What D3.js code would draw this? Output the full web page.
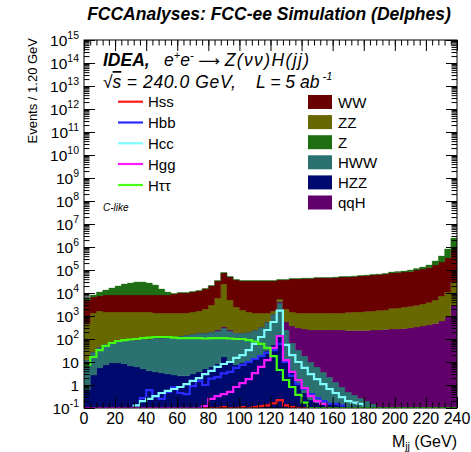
<!DOCTYPE html>
<html><head><meta charset="utf-8">
<script src="https://cdn.jsdelivr.net/npm/d3@7"></script>
<style>
body{margin:0;background:#fff}
svg{display:block}
text{font-family:"Liberation Sans",Arial,Helvetica,sans-serif;fill:#000}
</style>
</head><body>
<svg id="c" width="471" height="452"></svg>
<script>
// ---- data: bin centers (GeV), 4 GeV wide bins ----
const binCenters = [2,6,10,14,18,22,26,30,34,38,42,46,50,54,58,62,66,70,74,78,82,86,90,94,98,102,106,110,114,118,122,126,130,134,138,142,146,150,154,158,162,166,170,174,178,182,186,190,194,198,202,206,210,214,218,222,226,230,234,238];
const binWidth = 4;

// stacked backgrounds (events / bin)
const HZZ = [0.6,2.7,5.5,7.4,9.1,9.1,8.2,6.7,6.1,5.0,4.1,3.7,3.3,3.0,2.7,2.5,2.5,3.0,3.7,5.0,6.1,8.2,16.5,10,7.4,9.1,11,15,20,30,55,150,12,3.7,1.2,0.45,0.22,0.17,0.15,0.15,0.14,0.13,0.12,0.12,0.11,0.11,0.1,0,0,0,0,0,0,0,0,0,0,0,0,0];
const HWW = [11.6,24.5,39,53,65,73,82,84,84,95,96,106,107,119,119,133,147,162,178,177,195,215,285,213,175,173,190,231,312,518,1165,3500,234,63,32,17.8,9.8,5.9,3.5,2.1,1.2,0.69,0.38,0.25,0.16,0.09,0.05,0.05,0,0,0,0,0,0,0,0,0,0,0,0];
const qqH = [0.2,0.2,0.2,0.2,0.2,0.2,0.2,0.2,0.2,0.2,0.2,0.2,0.2,0.2,0.2,0.2,0.2,0.2,0.2,0.2,2,23,31,23,3,1,1,1,1,2,5,500,302,300,268,254,236,240,242,244,245,245,233,233,234,234,246,246,259,272,272,286,301,332,367,406,472,606,905,3010];
const ZZ = [484,1320,1600,1430,1420,1410,1400,1400,1400,1390,1390,1240,1240,1230,1230,1215,1200,1325,1470,1840,2810,5810,24300,4710,2280,1640,1290,1100,1020,800,430,1330,1470,1120,1050,1080,1100,1100,1100,1100,1100,1100,1190,1260,1260,1340,1400,1480,1560,1850,1960,2170,2290,2530,2960,3450,4490,6800,10100,27100];
const WW = [4460,5350,5760,6700,6700,6700,6700,6700,6700,6700,6700,6840,6840,6840,7700,8650,8650,9510,10550,12900,17200,27100,49500,44600,34200,31400,31700,31800,31800,31800,31500,31200,34700,39100,39250,41350,41350,43550,43550,43550,45850,48250,48200,50700,53300,56100,59000,62000,65200,72000,75600,79400,83400,97100,106700,124100,160000,215600,322000,711000];
const Zbkg = [1100,1490,3590,5310,8310,12000,16400,19000,21900,21900,19000,14100,6710,2810,450,500,500,600,600,800,1000,1700,3700,2600,1900,1700,1700,1700,1700,1700,1700,1900,1900,2100,2100,2200,2200,2300,2300,2300,2400,2600,2600,2600,2900,2900,3100,3300,4000,7800,8200,8600,14000,16000,25000,37000,81000,183000,485000,1720000];

// signal lines (events / bin)
const Hss = [0,0,0,0,0,0,0,0,0,0,0,0,0,0,0,0,0,0,0,0,0.1,0.1,0.11,0.1,0.1,0.11,0.1,0.11,0.12,0.13,0.16,0.22,0.13,0.11,0.1,0,0,0,0,0,0,0,0,0,0,0,0,0,0,0,0,0,0,0,0,0,0,0,0,0];
const Hbb = [0,0,0,0,0,0,0,0,0.13,0.27,0.6,0.33,0.25,0.5,0.8,0.45,0.4,0.9,1.5,1.0,1.9,2.2,3.2,3.7,5.5,7.4,10,13.5,18,25,33,61,10,2.5,1.1,0.67,0.4,0.27,0.2,0.15,0.15,0.13,0,0,0,0,0,0,0,0,0,0,0,0,0,0,0,0,0,0];
const Hcc = [0,0,0,0,0,0,0,0.1,0.13,0.2,0.25,0.33,0.45,0.55,0.67,0.82,1.1,1.5,2.0,3.0,4.1,6.1,8.2,10,15,20,33,61,122,246,548,1700,55,20,10,5.5,3.0,1.8,1.1,0.67,0.45,0.3,0.2,0.17,0.15,0,0,0,0,0,0,0,0,0,0,0,0,0,0,0];
const Hgg = [0,0,0,0,0,0,0,0,0,0,0,0,0,0,0,0,0,0,0,0.12,0.25,0.33,0.4,0.5,0.82,1.2,1.8,3.3,6.1,12,41,135,12,3.7,1.65,0.74,0.33,0.2,0.15,0,0,0,0,0,0,0,0,0,0,0,0,0,0,0,0,0,0,0,0,0];
const Htautau = [7.4,16.5,33,50,67,82,90,95,100,110,115,122,122,122,115,110,110,110,110,105,110,110,110,105,100,100,90,78,61,41,18,4.5,1.65,0.82,0.37,0.17,0,0,0,0,0,0,0,0,0,0,0,0,0,0,0,0,0,0,0,0,0,0,0,0];

// axis ticks
const xTickValues = [0,20,40,60,80,100,120,140,160,180,200,220,240];
const yExponents = [-1,0,1,2,3,4,5,6,7,8,9,10,11,12,13,14,15];

// ---- layout ----
const svg = d3.select("#c");
const L = 84, R = 457, T = 40, B = 408;
const x = d3.scaleLinear().domain([0,240]).range([L,R]);
const y = d3.scaleLog().domain([0.1,1e15]).range([B,T]).clamp(true);
const yv = v => y(Math.max(v,0.1));

const stackKeys = ["HZZ","HWW","qqH","ZZ","WW","Z"];
const stackColors = {HZZ:"#000a6e",HWW:"#2b7171",qqH:"#61006b",ZZ:"#686800",WW:"#680000",Z:"#1f6e14"};
const seriesMap = {HZZ,HWW,qqH,ZZ,WW,Z:Zbkg};
const table = binCenters.map((c,i)=>{const o={c}; stackKeys.forEach(k=>o[k]=seriesMap[k][i]); return o;});
const stacked = d3.stack().keys(stackKeys)(table);

svg.append("clipPath").attr("id","clip").append("rect").attr("x",L).attr("y",T).attr("width",R-L).attr("height",B-T);
const plot = svg.append("g").attr("clip-path","url(#clip)");

function stepPts(arr, acc){
  const pts=[];
  arr.forEach((d,i)=>{const c=binCenters[i]; const v=acc(d,i); pts.push({x:c-binWidth/2,v}); pts.push({x:c+binWidth/2,v});});
  return pts;
}
const area = d3.area().x(d=>x(d.x)).y0(d=>yv(d.v[0])).y1(d=>yv(d.v[1]));
stacked.forEach(layer=>{
  const pts = stepPts(layer, d=>[d[0],d[1]]);
  plot.append("path").attr("d",area(pts)).attr("fill",stackColors[layer.key]).attr("stroke",stackColors[layer.key]).attr("stroke-width",0.3);
});

const lineSeries = [
  {name:"Hss",vals:Hss,color:"#ff1a1a"},
  {name:"Hbb",vals:Hbb,color:"#2b2bff"},
  {name:"Hcc",vals:Hcc,color:"#7ffcfc"},
  {name:"Hgg",vals:Hgg,color:"#ff1aff"},
  {name:"H\u03c4\u03c4",vals:Htautau,color:"#44ff11"}
];
const line = d3.line().x(d=>x(d.x)).y(d=>yv(d.v));
lineSeries.forEach(s=>{
  const pts = stepPts(s.vals, d=>d);
  plot.append("path").attr("d",line(pts)).attr("fill","none").attr("stroke",s.color).attr("stroke-width",2.2);
});

// ---- axes ticks (inside the frame) ----
const majorY = yExponents.map(e=>Math.pow(10,e));
const minorY = [];
yExponents.slice(0,-1).forEach(e=>{for(let k=2;k<=9;k++) minorY.push(k*Math.pow(10,e));});
const minorX = d3.range(0,241,4);
function tickG(axis){
  const g = svg.append("g").call(axis);
  g.select(".domain").remove();
  g.selectAll("line").attr("stroke","#000").attr("stroke-width",1);
  return g;
}
tickG(d3.axisLeft(y).tickValues(majorY).tickSize(-11).tickFormat("")).attr("transform",`translate(${L},0)`);
tickG(d3.axisLeft(y).tickValues(minorY).tickSize(-5.5).tickFormat("")).attr("transform",`translate(${L},0)`);
tickG(d3.axisRight(y).tickValues(majorY).tickSize(-11).tickFormat("")).attr("transform",`translate(${R},0)`);
tickG(d3.axisRight(y).tickValues(minorY).tickSize(-5.5).tickFormat("")).attr("transform",`translate(${R},0)`);
tickG(d3.axisBottom(x).tickValues(xTickValues).tickSize(-11).tickFormat("")).attr("transform",`translate(0,${B})`);
tickG(d3.axisBottom(x).tickValues(minorX).tickSize(-5.5).tickFormat("")).attr("transform",`translate(0,${B})`);
tickG(d3.axisTop(x).tickValues(xTickValues).tickSize(-11).tickFormat("")).attr("transform",`translate(0,${T})`);
tickG(d3.axisTop(x).tickValues(minorX).tickSize(-5.5).tickFormat("")).attr("transform",`translate(0,${T})`);

svg.append("rect").attr("x",L).attr("y",T).attr("width",R-L).attr("height",B-T).attr("fill","none").attr("stroke","#000").attr("stroke-width",1);

yExponents.forEach(e=>{
  const t = svg.append("text").attr("x",79).attr("y",y(Math.pow(10,e))+5.5).attr("text-anchor","end").attr("font-size",15.5);
  if(e===0){t.text("1");}
  else if(e===1){t.text("10");}
  else {t.append("tspan").text("10"); t.append("tspan").attr("dy",-7).attr("font-size",10.5).text(String(e));}
});
xTickValues.forEach(v=>{
  svg.append("text").attr("x",x(v)).attr("y",424).attr("text-anchor","middle").attr("font-size",16).text(String(v));
});

svg.append("text").attr("transform","translate(37,38) rotate(-90)").attr("text-anchor","end").attr("font-size",13).text("Events / 1.20 GeV");
const xt = svg.append("text").attr("x",457).attr("y",447).attr("text-anchor","end").attr("font-size",16);
xt.append("tspan").text("M");
xt.append("tspan").attr("dy",3).attr("font-size",10.5).text("jj");
xt.append("tspan").attr("dy",-3).text(" (GeV)");

svg.append("text").attr("x",269).attr("y",20).attr("text-anchor","middle").attr("font-size",17.5).attr("font-weight","bold").attr("font-style","italic").text("FCCAnalyses: FCC-ee Simulation (Delphes)");

// header texts
svg.append("text").attr("x",103).attr("y",66).attr("font-size",17.5).attr("font-weight","bold").attr("font-style","italic").text("IDEA,");
const proc = svg.append("text").attr("x",164).attr("y",66).attr("font-size",17.5).attr("font-style","italic");
proc.append("tspan").text("e");
proc.append("tspan").attr("dy",-7).attr("font-size",11).text("+");
proc.append("tspan").attr("dy",7).text("e");
proc.append("tspan").attr("dy",-7).attr("font-size",11).text("-");
proc.append("tspan").attr("dy",7).attr("font-style","normal").attr("font-family","DejaVu Sans").attr("font-size",15).text("  \u27f6 ");
proc.append("tspan").attr("letter-spacing",1.4).text("Z(\u03bd\u03bd)H(jj)");
const lum = svg.append("text").attr("x",103).attr("y",88).attr("font-size",17.5).attr("font-style","italic");
lum.append("tspan").text("\u221a");
lum.append("tspan").attr("text-decoration","overline").text("s");
lum.append("tspan").attr("letter-spacing",0.6).text(" = 240.0 GeV,");
lum.append("tspan").attr("x",256).text("L = 5 ab");
lum.append("tspan").attr("dy",-8).attr("font-size",11).text(" -1");
svg.append("text").attr("x",103).attr("y",211).attr("font-size",10).attr("font-style","italic").text("C-like");

const lineRows = [101.7,122.5,143.3,164,185];
lineSeries.forEach((s,i)=>{
  svg.append("line").attr("x1",118).attr("x2",143).attr("y1",lineRows[i]).attr("y2",lineRows[i]).attr("stroke",s.color).attr("stroke-width",2.2);
  svg.append("text").attr("x",148).attr("y",lineRows[i]+5.5).attr("font-size",15).text(s.name);
});
const boxLegend = ["WW","ZZ","Z","HWW","HZZ","qqH"];
boxLegend.forEach((k,i)=>{
  const cy = 102 + i*20.1;
  svg.append("rect").attr("x",308).attr("y",cy-7).attr("width",24).attr("height",14).attr("fill",stackColors[k]);
  svg.append("text").attr("x",338).attr("y",cy+5.5).attr("font-size",15).text(k);
});
</script>
</body></html>
